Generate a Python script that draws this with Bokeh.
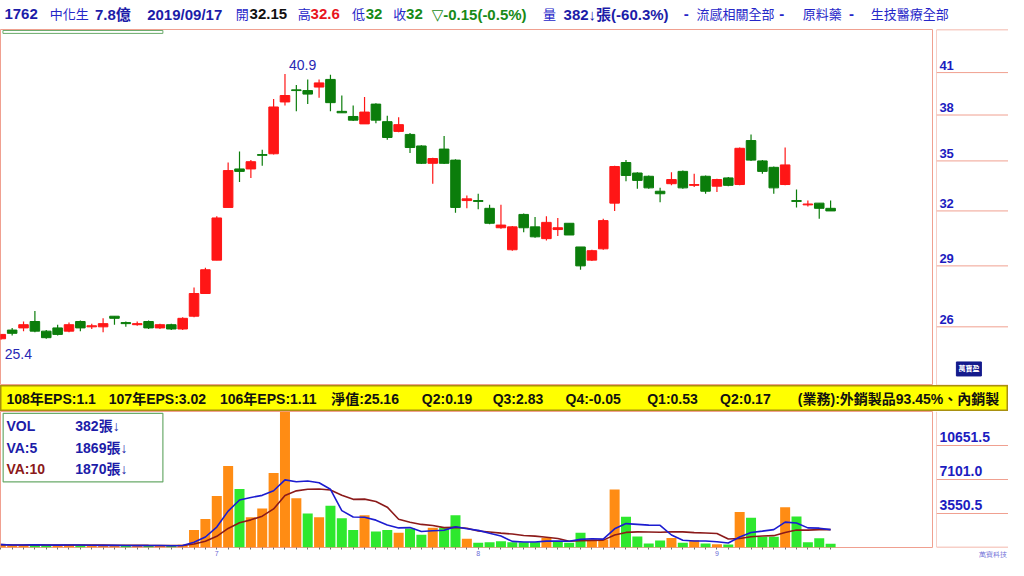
import numpy as np
import pandas as pd
from bokeh.plotting import figure
from bokeh.models import Range1d, FixedTicker, Span, ColumnDataSource
from bokeh.layouts import column, row
from bokeh.core.properties import value
from bokeh.embed import file_html
from bokeh.resources import INLINE

# ---------------- data ----------------
stock_code = "1762"
stock_name = "中化生"
market_cap = "7.8億"
trade_date = "2019/09/17"
sector_tags = ["流感相關全部", "原料藥", "生技醫療全部"]

opens = [25.45, 25.85, 25.95, 26.25, 25.8, 25.95, 25.8, 26.25, 26.0, 26.0,
         26.5, 26.2, 26.1, 26.25, 25.95, 26.1, 25.9, 26.5, 27.6, 29.3,
         32.2, 34.5, 34.5, 35.4, 35.45, 38.9, 39.75, 39.7, 39.95, 40.5,
         38.25, 37.9, 37.4, 38.75, 37.55, 36.9, 36.7, 35.95, 34.85, 35.75,
         35.05, 32.6, 32.6, 32.15, 31.05, 29.85, 31.8, 31.1, 30.45, 30.95,
         31.3, 30.0, 29.3, 29.9, 32.45, 34.9, 34.25, 34.05, 33.15, 33.6,
         34.35, 33.5, 34.05, 33.45, 33.95, 33.55, 36.3, 35.0, 34.6, 33.55,
         32.6, 32.35, 32.45, 32.15]
highs = [25.65, 25.95, 26.25, 26.75, 25.85, 26.1, 26.2, 26.3, 26.15, 26.4,
         26.5, 26.25, 26.25, 26.3, 26.15, 26.15, 26.45, 27.9, 28.9, 31.7,
         34.9, 35.6, 35.05, 35.7, 39.1, 40.9, 40.1, 40.5, 40.5, 40.85,
         39.35, 38.65, 39.25, 38.8, 37.95, 37.85, 36.8, 36.0, 35.2, 36.6,
         35.1, 32.9, 33.0, 32.35, 32.35, 31.15, 31.85, 31.65, 31.7, 31.6,
         31.3, 30.0, 29.85, 31.55, 34.7, 35.05, 34.3, 34.1, 33.35, 34.3,
         34.4, 34.2, 34.1, 33.9, 34.0, 35.85, 36.7, 35.05, 34.65, 35.85,
         33.25, 32.6, 32.45, 32.6]
lows = [25.4, 25.6, 25.8, 25.75, 25.45, 25.6, 25.75, 25.8, 25.9, 25.75,
        26.1, 26.0, 26.05, 25.9, 25.9, 25.85, 25.85, 26.45, 27.6, 29.3,
        32.2, 33.7, 33.95, 34.7, 35.4, 38.65, 38.25, 38.75, 39.2, 38.25,
        38.15, 37.6, 37.4, 37.45, 36.35, 36.85, 35.5, 34.8, 33.6, 34.8,
        31.9, 32.15, 32.1, 31.25, 31.0, 29.8, 30.8, 30.5, 30.35, 30.6,
        30.65, 28.8, 29.25, 29.85, 32.0, 33.75, 33.3, 33.3, 32.5, 33.5,
        33.3, 33.4, 33.0, 33.1, 33.45, 33.5, 35.0, 34.2, 33.0, 33.5,
        32.2, 32.25, 31.55, 32.0]
closes = [25.65, 25.7, 26.1, 25.8, 25.5, 25.65, 26.1, 25.95, 26.05, 26.15,
          26.4, 26.15, 26.15, 25.95, 26.1, 25.9, 26.4, 27.6, 28.8, 31.6,
          34.4, 34.35, 34.95, 35.35, 38.55, 39.35, 39.7, 39.45, 40.25, 38.85,
          38.15, 37.65, 38.2, 37.65, 36.5, 37.35, 35.85, 34.85, 35.15, 34.85,
          32.2, 32.7, 32.55, 31.3, 31.2, 31.1, 31.05, 30.55, 31.35, 31.05,
          30.65, 29.0, 29.8, 31.45, 34.65, 34.1, 33.8, 33.35, 33.0, 33.85,
          33.35, 33.55, 33.15, 33.85, 33.5, 35.8, 35.05, 34.35, 33.35, 34.75,
          32.55, 32.4, 32.15, 32.0]
volumes = [300, 220, 240, 330, 250, 200, 280, 230, 190, 210,
           260, 180, 160, 220, 200, 180, 300, 1820, 2980, 5390,
           8500, 6120, 3150, 4070, 7780, 14202, 5130, 3540, 3150, 4370,
           3050, 1820, 3380, 1660, 1820, 1550, 1990, 1320, 2050, 2080,
           3380, 920, 500, 560, 660, 560, 560, 560, 990, 660,
           500, 1550, 830, 830, 6060, 3210, 1160, 430, 730, 990,
           500, 760, 430, 330, 302, 3700, 3100, 1125, 1128, 4200,
           3250, 551, 962, 382]
month_tick_idx = [19, 42, 63]
month_labels = ["7", "8", "9"]
price_ticks = [26, 29, 32, 35, 38, 41]
eps_texts = ["108年EPS:1.1", "107年EPS:3.02", "106年EPS:1.11", "淨值:25.16",
             "Q2:0.19", "Q3:2.83", "Q4:-0.05", "Q1:0.53", "Q2:0.17",
             "(業務):外銷製品93.45%、內銷製"]

# ---------------- layout / style ----------------
W = 1008
MAIN_W, AX_W = 933, 75
H_HEAD, H_PRICE, H_EPS, H_VOL = 29, 356, 26, 149
FONT = value("Liberation Sans, DejaVu Sans, Noto Sans CJK TC")
FRAME = "#f0a090"
UP, DOWN = "#ff1616", "#0b7d0b"
VUP, VDOWN = "#ff8c14", "#2ee82e"
NAVY, BLUE, BLACK, RED, GREEN = "#1c1ca8", "#2626c8", "#111111", "#e8141e", "#178a17"

# reference-pixel helpers for placing decorations
def ref_x_to_idx(x):
    return (x - 0.3) / 11.55

def ref_y_to_price(y):
    return 32.78 * np.exp((202.71 - y) / 573.9)

n = len(closes)
idx = np.arange(n)
o = np.array(opens); h = np.array(highs); l = np.array(lows); c = np.array(closes)
vol = np.array(volumes, dtype=float)
vmax = vol.max()

def ref_y_to_vol(y):
    return (565 - y) * vmax / 143.0

candle_col = [UP if c[i] >= o[i] else DOWN for i in range(n)]
prev_c = np.concatenate([[o[0]], c[:-1]])
vol_col = [VUP if c[i] >= prev_c[i] else VDOWN for i in range(n)]
va5 = pd.Series(vol).rolling(5, min_periods=1).mean().values
va10 = pd.Series(vol).rolling(10, min_periods=1).mean().values

xr = Range1d(ref_x_to_idx(0), ref_x_to_idx(948))
pr = Range1d(ref_y_to_price(396), ref_y_to_price(30))
vr = Range1d(0, vmax)

def fmt(v):
    return f"{v:g}"

# ---------------- header ----------------
chg = c[-1] - c[-2]
pct = chg / c[-2] * 100
vpct = (vol[-1] - vol[-2]) / vol[-2] * 100
sym = "▽" if chg < 0 else "△"
hdr_texts = [stock_code, stock_name, market_cap, trade_date,
             "開", fmt(o[-1]), "高", fmt(h[-1]), "低", fmt(l[-1]), "收", fmt(c[-1]),
             f"{sym}{chg:.2f}({pct:.1f}%)", "量", f"{int(vol[-1])}↓張({vpct:.1f}%)",
             "-", sector_tags[0], "-", sector_tags[1], "-", sector_tags[2]]
hdr_x = [4, 50, 96, 149, 239, 253, 302, 315, 357, 371, 399, 412, 438, 551, 572,
         694, 707, 791, 815, 862, 884]
close_col = GREEN if chg < 0 else RED
hdr_col = [NAVY, BLUE, NAVY, NAVY, BLUE, BLACK, BLUE, RED, BLUE, close_col, BLUE, close_col,
           close_col, BLUE, NAVY, BLUE, BLUE, BLUE, BLUE, BLUE, BLUE]
hdr_style = ["bold", "normal", "bold", "bold", "normal", "bold", "normal", "bold", "normal",
             "bold", "normal", "bold", "bold", "normal", "bold", "bold", "normal", "bold",
             "normal", "bold", "normal"]
hdr_size = ["15px" if s == "bold" else "13px" for s in hdr_style]

hd = figure(width=W, height=H_HEAD, x_range=Range1d(0, 1024), y_range=Range1d(30, 0),
            x_axis_location=None, y_axis_location=None, toolbar_location=None,
            output_backend="svg", min_border=0, outline_line_color=None)
hd.grid.visible = False
hsrc = ColumnDataSource(dict(x=hdr_x, y=[14] * len(hdr_x), t=hdr_texts, tc=hdr_col,
                             ts=hdr_style, tz=hdr_size))
hd.text(x="x", y="y", text="t", source=hsrc, text_color="tc", text_font_style="ts",
        text_font_size="tz", text_font=FONT, text_baseline="middle", text_align="left")

# ---------------- price panel ----------------
p = figure(width=MAIN_W, height=H_PRICE, x_range=xr, y_range=pr, y_axis_type="log",
           x_axis_location=None, y_axis_location=None, toolbar_location=None,
           output_backend="svg", min_border=0, outline_line_color=FRAME)
p.grid.visible = False
p.quad(left=[ref_x_to_idx(2.5)], right=[ref_x_to_idx(165)],
       top=[ref_y_to_price(31)], bottom=[ref_y_to_price(34)],
       fill_color="white", line_color="#6aaa6a", line_width=1)
p.segment(x0=idx, y0=l, x1=idx, y1=h, line_color=candle_col, line_width=1.2)
p.vbar(x=idx, width=0.84, top=np.maximum(o, c), bottom=np.minimum(o, c),
       fill_color=candle_col, line_color=candle_col, line_width=1)
imax, imin = int(np.argmax(h)), int(np.argmin(l))
p.text(x=[imax], y=[h[imax]], text=[fmt(h[imax])], x_offset=4, y_offset=-4,
       text_baseline="bottom", text_align="left", text_color="#2828b4",
       text_font_size="14px", text_font=FONT)
p.text(x=[imin], y=[l[imin]], text=[fmt(l[imin])], x_offset=4, y_offset=9,
       text_baseline="top", text_align="left", text_color="#2828b4",
       text_font_size="14px", text_font=FONT)

pa = figure(width=AX_W, height=H_PRICE, x_range=Range1d(0, 1), y_range=pr, y_axis_type="log",
            x_axis_location=None, y_axis_location=None, toolbar_location=None,
            output_backend="svg", min_border=0, min_border_left=3, outline_line_color=None)
pa.grid.visible = False
pa.segment(x0=[0] * len(price_ticks), x1=[1] * len(price_ticks), y0=price_ticks, y1=price_ticks,
           line_color=FRAME, line_width=1)
pa.text(x=[0.04] * len(price_ticks), y=price_ticks, text=[str(t) for t in price_ticks],
        y_offset=-3, text_baseline="bottom", text_align="left", text_color="#1c1cc0",
        text_font_style="bold", text_font_size="13px", text_font=FONT)
pa.add_layout(Span(location=0, dimension="height", line_color=FRAME, line_width=1))
pa.add_layout(Span(location=pr.end, dimension="width", line_color=FRAME, line_width=1.5))
pa.add_layout(Span(location=pr.start, dimension="width", line_color=FRAME, line_width=1.5))
pa.rect(x=[0.45], y=[ref_y_to_price(379)], width=25, height=14, width_units="screen",
        height_units="screen", fill_color="#141a8c", line_color="#141a8c")
pa.text(x=[0.45], y=[ref_y_to_price(379)], text=["萬寶盈"], text_align="center",
        text_baseline="middle", text_color="white", text_font_size="7px",
        text_font_style="bold", text_font=FONT)

# ---------------- EPS strip ----------------
eps_x = [6, 110, 223, 336, 428, 500, 574, 657, 731, 810]
ep = figure(width=W, height=H_EPS, x_range=Range1d(0, 1024), y_range=Range1d(0, 1),
            x_axis_location=None, y_axis_location=None, toolbar_location=None,
            output_backend="svg", min_border=0, background_fill_color="#ffff00",
            border_fill_color="#ffff00", outline_line_color="#a89010", outline_line_width=2)
ep.grid.visible = False
ep.text(x=eps_x, y=[0.5] * len(eps_x), text=eps_texts, text_baseline="middle",
        text_align="left", text_color=BLACK, text_font_style="bold",
        text_font_size="14px", text_font=FONT)

# ---------------- volume panel ----------------
v = figure(width=MAIN_W, height=H_VOL, x_range=xr, y_range=vr,
           x_axis_location="below", y_axis_location=None, toolbar_location=None,
           output_backend="svg", min_border=0, min_border_bottom=12,
           outline_line_color=FRAME)
v.grid.visible = False
v.vbar(x=idx, width=0.88, top=vol, bottom=0, fill_color=vol_col, line_color=None)
v.line(idx, va10, line_color="#8b1a1a", line_width=1.6)
v.line(idx, va5, line_color="#1c1cd0", line_width=1.6)
v.quad(left=[ref_x_to_idx(2.7)], right=[ref_x_to_idx(165)],
       top=[ref_y_to_vol(424)], bottom=[ref_y_to_vol(496)],
       fill_color="white", line_color="#6aaa6a", line_width=1.2)
leg_names = ["VOL", "VA:5", "VA:10"]
leg_vals = [f"{int(vol[-1])}張↓", f"{int(round(va5[-1]))}張↓", f"{int(round(va10[-1]))}張↓"]
leg_cols = [NAVY, NAVY, "#8b1a1a"]
leg_y = [ref_y_to_vol(y) for y in (437.5, 460, 482.5)]
v.text(x=[ref_x_to_idx(6)] * 3, y=leg_y, text=leg_names, text_color=leg_cols,
       text_baseline="middle", text_align="left", text_font_style="bold",
       text_font_size="14px", text_font=FONT)
v.text(x=[ref_x_to_idx(76)] * 3, y=leg_y, text=leg_vals, text_color=NAVY,
       text_baseline="middle", text_align="left", text_font_style="bold",
       text_font_size="14px", text_font=FONT)
xa = v.xaxis[0]
xa.ticker = FixedTicker(ticks=[int(i) for i in idx])
ov = {int(i): "" for i in idx}
for ti, tl in zip(month_tick_idx, month_labels):
    ov[int(ti)] = tl
xa.major_label_overrides = ov
xa.axis_line_color = None
xa.major_tick_in = 0
xa.major_tick_out = 2
xa.major_tick_line_color = "#707070"
xa.minor_tick_line_color = None
xa.major_label_standoff = 1
xa.major_label_text_font_size = "7px"
xa.major_label_text_color = "#6b6bd6"

vol_ticks = [vmax / 4 * k for k in (1, 2, 3)]
va_ = figure(width=AX_W, height=H_VOL, x_range=Range1d(0, 1), y_range=vr,
             x_axis_location="below", y_axis_location=None, toolbar_location=None,
             output_backend="svg", min_border=0, min_border_left=3, min_border_bottom=12,
             outline_line_color=None)
va_.grid.visible = False
va_.segment(x0=[0] * 3, x1=[1] * 3, y0=vol_ticks, y1=vol_ticks, line_color=FRAME, line_width=1)
va_.text(x=[0.04] * 3, y=vol_ticks, text=[f"{t:.1f}" for t in vol_ticks], y_offset=-4,
         text_baseline="bottom", text_align="left", text_color="#1c1cc0",
         text_font_style="bold", text_font_size="14px", text_font=FONT)
va_.add_layout(Span(location=0, dimension="height", line_color=FRAME, line_width=1))
va_.add_layout(Span(location=0, dimension="width", line_color=FRAME, line_width=1.5))
xb = va_.xaxis[0]
xb.ticker = FixedTicker(ticks=[0.83])
xb.major_label_overrides = {0.83: "萬寶科技"}
xb.axis_line_color = None
xb.major_tick_in = 0
xb.major_tick_out = 2
xb.major_tick_line_color = None
xb.minor_tick_line_color = None
xb.major_label_standoff = 1
xb.major_label_text_font_size = "7px"
xb.major_label_text_color = "#6b6bd6"

layout = column(hd, row(p, pa), ep, row(v, va_))
open("out.html", "w").write(file_html(layout, INLINE))
